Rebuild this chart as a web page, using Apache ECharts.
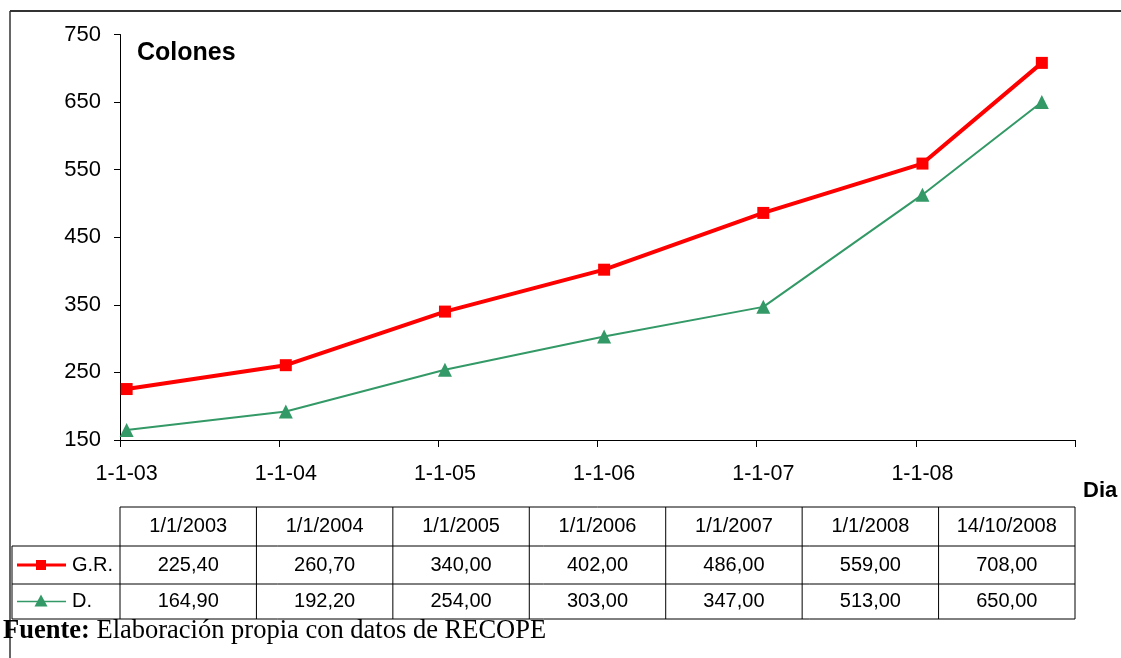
<!DOCTYPE html>
<html>
<head>
<meta charset="utf-8">
<script src="https://cdn.jsdelivr.net/npm/echarts@6/dist/echarts.min.js"></script>
<style>
html,body{margin:0;padding:0;background:#fff;}
#chart{width:1121px;height:658px;}
</style>
</head>
<body>
<div id="chart"></div>
<script>
// ---- data ----
const dates = ['1/1/2003', '1/1/2004', '1/1/2005', '1/1/2006', '1/1/2007', '1/1/2008', '14/10/2008'];
const seriesNames = ['G.R.', 'D.'];
const grValues = [225.40, 260.70, 340.00, 402.00, 486.00, 559.00, 708.00];
const dValues = [164.90, 192.20, 254.00, 303.00, 347.00, 513.00, 650.00];
const yTicks = [150, 250, 350, 450, 550, 650, 750];
const axisStartYear = 2003;
const axisEndYear = 2008;
const yTitle = 'Colones';
const xTitle = 'Dia';
const sourceBold = 'Fuente:';
const sourceText = ' Elaboración propia con datos de RECOPE';

// ---- helpers ----
const pad2 = n => (n < 10 ? '0' : '') + n;
const months = [];
for (let y = axisStartYear; y <= axisEndYear; y++) {
  for (let m = 1; m <= 12; m++) months.push(y + '-' + pad2(m));
}
function monthCat(dmy) {
  const p = dmy.split('/');
  return p[2] + '-' + pad2(parseInt(p[1], 10));
}
const isJan = (idx, val) => String(val).endsWith('-01');
const fmtNum = v => v.toFixed(2).replace('.', ',');

// ---- layout ----
const GL = 120, GT = 34.5, GW = 955, GH = 405.5;
const FONT = 'Liberation Sans, Arial, sans-serif';
const RED = '#ff0000', GREEN = '#339966';

const chart = echarts.init(document.getElementById('chart'), null, {renderer: 'canvas'});

// table graphics
const tTop = 507, rowB = [546, 584, 619], tLeft = 12;
const colW = GW / dates.length;
const g = [];
const line = (x1, y1, x2, y2, w, c) => g.push({type: 'line', silent: true, shape: {x1, y1, x2, y2}, style: {stroke: c || '#000', lineWidth: w || 1}});
const text = (x, y, t, opt) => g.push(Object.assign({type: 'text', silent: true, x, y, style: Object.assign({text: t, fill: '#000', font: '20px ' + FONT, align: 'center', verticalAlign: 'middle'}, opt || {})}));

// frame
line(10, 11, 1121, 11, 2, '#333');
line(10, 11, 10, 658, 1.5, '#333');

line(GL, tTop, GL + GW, tTop);
rowB.forEach(y => line(tLeft, y, GL + GW, y));
line(tLeft, rowB[0], tLeft, rowB[2]);
for (let k = 0; k <= dates.length; k++) line(GL + k * colW, tTop, GL + k * colW, rowB[2]);

const rowC = [(tTop + rowB[0]) / 2, (rowB[0] + rowB[1]) / 2, (rowB[1] + rowB[2]) / 2];
dates.forEach((d, i) => {
  const cx = GL + (i + 0.5) * colW;
  text(cx, rowC[0], d);
  text(cx, rowC[1], fmtNum(grValues[i]));
  text(cx, rowC[2], fmtNum(dValues[i]));
});
// legend keys
line(17, rowC[1], 66, rowC[1], 3, RED);
g.push({type: 'rect', silent: true, shape: {x: 36, y: rowC[1] - 5, width: 10, height: 10}, style: {fill: RED}});
text(72, rowC[1], seriesNames[0], {align: 'left'});
line(17, rowC[2], 66, rowC[2], 1.5, GREEN);
g.push({type: 'polygon', silent: true, shape: {points: [[41, rowC[2] - 7], [34.5, rowC[2] + 5], [47.5, rowC[2] + 5]]}, style: {fill: GREEN}});
text(72, rowC[2], seriesNames[1], {align: 'left'});

// titles
text(137, 53, yTitle, {align: 'left', font: 'bold 25px ' + FONT});
text(1083, 491, xTitle, {align: 'left', font: 'bold 22px ' + FONT});
g.push({type: 'text', silent: true, x: 3, y: 631, style: {
  text: '{b|' + sourceBold + '}{n|' + sourceText + '}', verticalAlign: 'middle', align: 'left',
  rich: {b: {fontFamily: 'Liberation Serif, Times New Roman, serif', fontWeight: 'bold', fontSize: 26.5, fill: '#000'},
         n: {fontFamily: 'Liberation Serif, Times New Roman, serif', fontSize: 26.5, fill: '#000'}}
}});

chart.setOption({
  animation: false,
  backgroundColor: '#fff',
  grid: {left: GL, top: GT, width: GW, height: GH, containLabel: false},
  xAxis: {
    type: 'category',
    data: months,
    boundaryGap: true,
    axisLine: {lineStyle: {color: '#000', width: 1}},
    axisTick: {show: true, interval: isJan, length: 7, lineStyle: {color: '#000'}},
    axisLabel: {interval: isJan, color: '#000', fontFamily: FONT, fontSize: 21.5, margin: 23,
      formatter: v => '1-1-' + v.slice(2, 4)},
    splitLine: {show: false}
  },
  yAxis: {
    type: 'value',
    min: yTicks[0], max: yTicks[yTicks.length - 1], interval: yTicks[1] - yTicks[0],
    axisLine: {show: true, lineStyle: {color: '#000', width: 1}},
    axisTick: {show: true, length: 6, lineStyle: {color: '#000'}},
    axisLabel: {color: '#000', fontFamily: FONT, fontSize: 22, margin: 19},
    splitLine: {show: false}
  },
  series: [
    {name: seriesNames[0], type: 'line', data: dates.map((d, i) => [monthCat(d), grValues[i]]),
     symbol: 'rect', symbolSize: 12, showAllSymbol: true,
     lineStyle: {color: RED, width: 4}, itemStyle: {color: RED}, z: 3},
    {name: seriesNames[1], type: 'line', data: dates.map((d, i) => [monthCat(d), dValues[i]]),
     symbol: 'triangle', symbolSize: 14, showAllSymbol: true,
     lineStyle: {color: GREEN, width: 2}, itemStyle: {color: GREEN}, z: 2}
  ],
  graphic: g
});
</script>
</body>
</html>
